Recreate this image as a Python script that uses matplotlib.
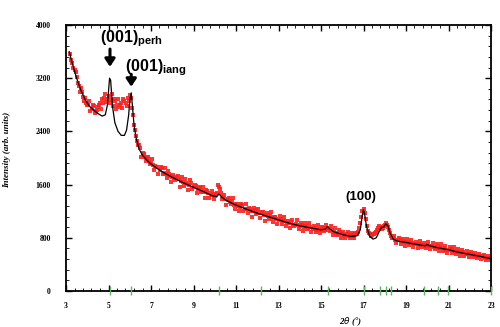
import numpy as np
import matplotlib.pyplot as plt

plt.rcParams['mathtext.fontset'] = 'custom'
plt.rcParams['mathtext.rm'] = 'Liberation Sans'
plt.rcParams['mathtext.bf'] = 'Liberation Sans:bold'

# measured pattern (red points), 2theta from 3.2 to 23.0 in 0.1 steps
obs_y = [3560, 3430, 3330, 3220, 3090, 3050, 2920, 2900, 2800, 2850,
         2740, 2780, 2700, 2760, 2820, 2880, 2900, 2840, 2930, 2870,
         2780, 2850, 2800, 2760, 2830, 2880, 2820, 2900, 2950, 2750,
         2500, 2330, 2200, 2150, 2080, 2020, 2000, 1960, 1930, 1900,
         1880, 1860, 1820, 1850, 1780, 1760, 1800, 1730, 1720, 1700,
         1720, 1680, 1660, 1640, 1680, 1610, 1600, 1620, 1570, 1580,
         1540, 1560, 1510, 1490, 1520, 1470, 1450, 1460, 1430, 1480,
         1560, 1470, 1410, 1380, 1370, 1340, 1350, 1300, 1310, 1280,
         1270, 1290, 1240, 1230, 1250, 1210, 1200, 1220, 1180, 1170,
         1190, 1150, 1140, 1130, 1150, 1100, 1110, 1080, 1070, 1090,
         1050, 1060, 1030, 1020, 1040, 1000, 1010, 990, 980, 1000,
         960, 970, 950, 960, 930, 950, 920, 930, 910, 940,
         920, 950, 900, 910, 880, 870, 860, 880, 850, 840,
         860, 830, 840, 820, 850, 860, 950, 1120, 1240, 1080,
         900, 850, 840, 860, 890, 940, 960, 940, 990, 1000,
         920, 820, 790, 770, 760, 760, 750, 740, 730, 740,
         720, 720, 710, 700, 710, 690, 690, 680, 690, 670,
         680, 660, 650, 670, 640, 650, 630, 620, 620, 630,
         600, 600, 590, 590, 580, 590, 560, 560, 550, 560,
         540, 530, 530, 520, 520, 500, 500, 490, 490]
obs_x = np.round(3.2 + 0.1 * np.arange(len(obs_y)), 2)

# measured pattern, in-between points (3.25 to 22.95), noisier
obs2_y = [3480, 3350, 3290, 3130, 3000, 2990, 2860, 2830, 2790, 2710,
          2800, 2680, 2720, 2790, 2740, 2830, 2960, 2880, 2820, 2960,
          2880, 2740, 2880, 2790, 2750, 2860, 2780, 2860, 2900, 2640,
          2420, 2260,
          2200, 2020, 2060, 1960, 2015, 1905, 1985, 1815, 1860, 1760,
          1870, 1755, 1850, 1700, 1765, 1645, 1745, 1670, 1735, 1570,
          1715, 1580, 1630, 1525, 1670, 1535, 1600, 1470, 1555, 1485,
          1565, 1400, 1505, 1400, 1500, 1390, 1455, 1595, 1540, 1390,
          1440, 1295, 1395, 1305, 1400, 1240, 1305, 1200, 1315, 1210,
          1310, 1170, 1240, 1120, 1245, 1155, 1235, 1095, 1185, 1060,
          1180, 1085, 1185, 1045, 1110, 1005, 1125, 1015, 1115, 975,
          1055, 940, 1062, 975, 1065, 928, 1017, 900, 1025, 930,
          1023, 887, 975, 890, 993, 872, 960, 895, 1000, 920,
          970, 845, 945, 835, 915, 795, 887, 790, 892, 790,
          865, 793, 867, 880, 1020, 1200, 1180, 980, 870, 830,
          850, 870, 910, 970, 930, 970, 1030, 960, 870, 800,
          820, 725, 803, 703, 783, 683, 787, 686, 765, 664,
          743, 647, 747, 657, 727, 650, 740, 631, 725, 632,
          704, 602, 701, 600, 674, 573, 656, 568, 655, 562,
          629, 532, 611, 530, 604, 513, 582, 506, 575, 499,
          558, 481, 539, 471, 524, 462]
obs2_x = np.round(3.25 + 0.1 * np.arange(len(obs2_y)), 2)

# calculated pattern (black line)
calc_x = [3.15, 3.3, 3.5, 3.7, 3.9, 4.1, 4.3, 4.5, 4.7, 4.85, 4.95, 5.0, 5.05,
          5.1, 5.15, 5.2, 5.3, 5.45, 5.6, 5.75, 5.85, 5.95, 6.0, 6.07, 6.12,
          6.2, 6.3, 6.45, 6.6, 6.8, 7.0, 7.3, 7.6, 8.0, 8.5, 9.0, 9.5, 9.9,
          10.1, 10.2, 10.3, 10.5, 11.0, 11.5, 12.0, 12.5, 13.0, 13.5, 14.0,
          14.5, 15.0, 15.2, 15.3, 15.4, 15.6, 16.0, 16.4, 16.7, 16.85, 16.95,
          17.0, 17.05, 17.15, 17.3, 17.45, 17.6, 17.75, 17.85, 17.95, 18.05,
          18.15, 18.25, 18.4, 18.6, 19.0, 19.5, 19.9, 20.0, 20.1, 20.5, 21.0,
          21.5, 22.0, 22.5, 23.0]
calc_y = [3600, 3420, 3200, 3020, 2880, 2780, 2720, 2670, 2630, 2650, 2800,
          3000, 3200, 3170, 2950, 2750, 2530, 2400, 2340, 2340, 2420, 2650,
          2860, 2980, 2800, 2500, 2300, 2130, 2040, 1970, 1910, 1840, 1780,
          1710, 1630, 1560, 1490, 1430, 1420, 1460, 1420, 1370, 1290, 1230,
          1170, 1120, 1070, 1020, 980, 950, 920, 930, 970, 940, 890, 850, 820,
          830, 920, 1150, 1220, 1160, 960, 820, 780, 800, 900, 960, 960, 1010,
          980, 870, 780, 750, 730, 700, 680, 700, 680, 650, 620, 580, 550,
          520, 485]

# Bragg positions (green marks)
bragg = [5.07, 6.06, 10.18, 12.18, 15.31, 17.0, 17.78, 18.06, 18.28,
         19.86, 20.49, 20.99, 22.98]

fig = plt.figure(figsize=(5, 3.27), dpi=100)
ax = fig.add_axes([66/500, 1-291/327, 425/500, 266/327])

ax.plot(obs_x, obs_y, 's', color='#ff2020', ms=2.4, mew=0, alpha=0.9)
ax.plot(obs2_x, obs2_y, 's', color='#ff2020', ms=2.4, mew=0, alpha=0.9)
ax.plot(calc_x, calc_y, '-', color='k', lw=0.9)
ax.vlines(bragg, -60, 70, color='#5cb85c', lw=1.0, clip_on=False, zorder=5)

ax.set_xlim(3, 23)
ax.set_ylim(0, 4000)
ax.set_xticks(np.arange(3, 24, 2))
ax.set_xticks(np.arange(3, 23.01, 0.4), minor=True)
ax.set_yticks(np.arange(0, 4001, 800))
ax.set_yticks(np.arange(0, 4001, 160), minor=True)
ax.tick_params(which='both', direction='in', top=True, right=True,
               labelsize=5.5, width=1)
ax.tick_params(which='major', length=4)
ax.tick_params(which='minor', length=2.2, width=0.6)
ax.tick_params(axis='x', pad=8)
ax.tick_params(axis='y', pad=11)
for lab in ax.get_xticklabels() + ax.get_yticklabels():
    lab.set_family('Liberation Serif')
    lab.set_weight('bold')
for sp in ax.spines.values():
    sp.set_linewidth(1.3)

ax.set_xlabel(r'2$\theta$ ($\degree$)', family='Liberation Serif',
              style='italic', weight='bold', fontsize=6.5)
ax.xaxis.set_label_coords(0.67, -0.093)
ax.set_ylabel('Intensity (arb. units)', family='Liberation Serif',
              style='italic', weight='bold', fontsize=6.5)
ax.yaxis.set_label_coords(-0.13, 0.53)

arr = dict(arrowstyle='-|>,head_width=0.3,head_length=0.45', lw=2.2, color='k')
ax.annotate('', xy=(5.07, 3330), xytext=(5.07, 3680), arrowprops=arr)
ax.annotate('', xy=(6.07, 3030), xytext=(6.07, 3300), arrowprops=arr)
ax.text(4.6, 3800, r'$\mathbf{(001)_{perh}}$', fontsize=11.5, ha='left', va='center')
ax.text(5.78, 3360, r'$\mathbf{(001)_{iang}}$', fontsize=11.5, ha='left', va='center')
ax.text(16.85, 1420, '(100)', family='Liberation Sans', weight='bold',
        fontsize=9.5, ha='center', va='center')

fig.savefig('out.png', dpi=100)
